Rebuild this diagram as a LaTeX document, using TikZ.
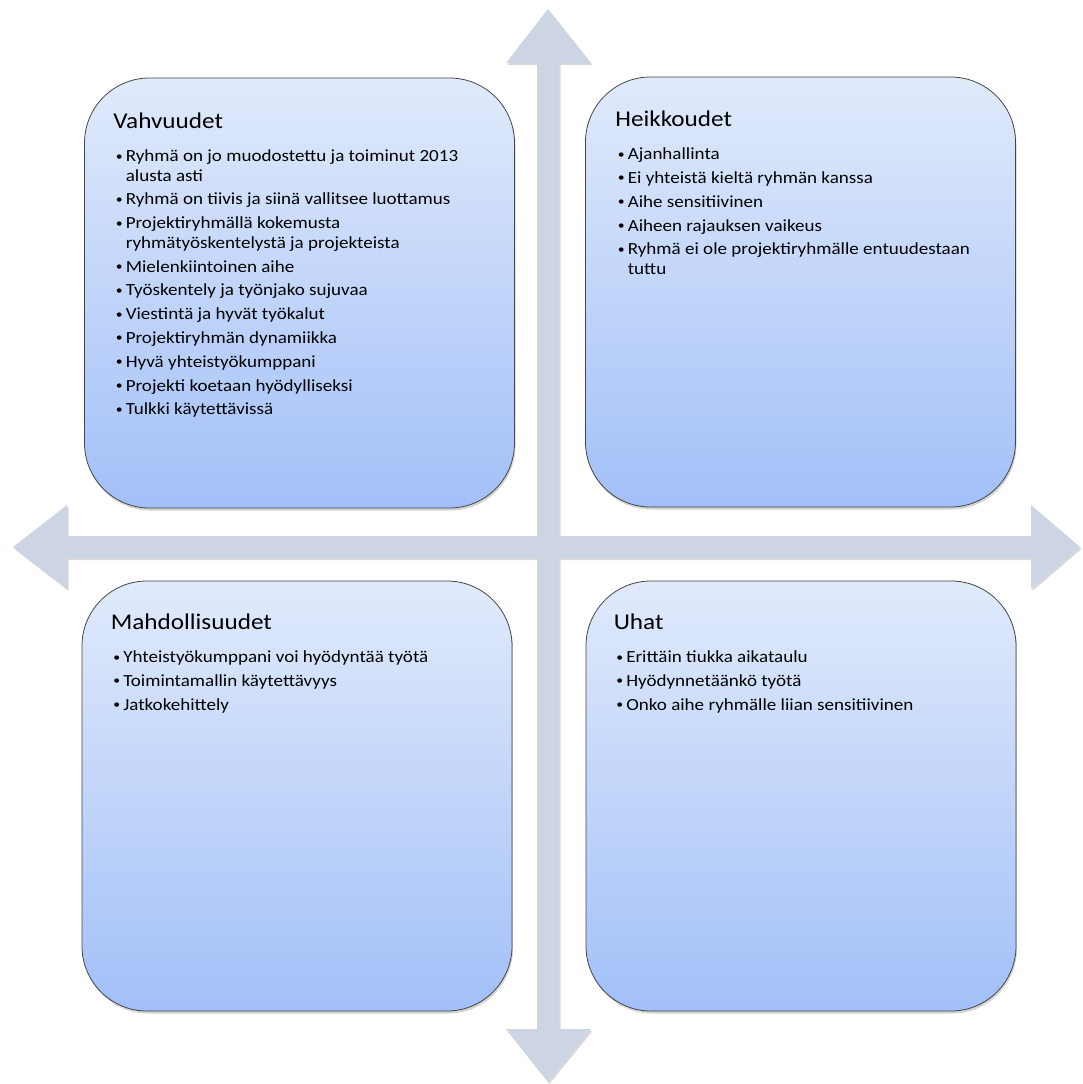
\documentclass[tikz,border=0pt]{standalone}
\usepackage{fontspec}
\setmainfont{Carlito}[FakeStretch=1.12]
\usepackage{tikz}
\usetikzlibrary{positioning,shadows}

\definecolor{axisgray}{HTML}{CDD5E4}
\definecolor{boxtop}{HTML}{E0EAFB}
\definecolor{boxbottom}{HTML}{A2C0F8}
\definecolor{boxline}{HTML}{454545}

\newcommand{\swotitem}[1]{\hangindent=12.5pt\hangafter=1\noindent\makebox[12.5pt][l]{\kern2.5pt\raisebox{1.5pt}{\scalebox{0.72}{\textbullet}}}#1\par}

\tikzset{
	swotbox/.style={draw=boxline,line width=0.8pt,rounded corners=65pt,minimum width=430pt,minimum height=430pt,top color=boxtop,bottom color=boxbottom,drop shadow={shadow xshift=1pt,shadow yshift=-2.5pt,opacity=0.35}},
	swottitle/.style={anchor=base west,inner sep=0pt,font=\fontsize{22.5}{26}\selectfont},
	swotlist/.style={inner sep=0pt,text width=390pt,align=flush left,font=\fontsize{17}{19.5}\selectfont,execute at begin node={\raggedright\setlength{\parskip}{4.3pt}}},
}

\begin{document}
\begin{tikzpicture}[x=1pt,y=-1pt]
		\useasboundingbox (0,0) rectangle (1082,1084);
		
		% axis cross
		\fill[axisgray,drop shadow={shadow xshift=1.5pt,shadow yshift=-2pt,opacity=0.3}] (548,9) -- (591,63) -- (559,63) -- (559,536) -- (1031,536) -- (1031,505) -- (1080,547) -- (1031,589) -- (1031,558) -- (559,558) -- (559,1029) -- (591,1029) -- (548,1082) -- (506,1029) -- (537,1029) -- (537,558) -- (67,558) -- (67,589) -- (13,547) -- (67,505) -- (67,536) -- (537,536) -- (537,63) -- (506,63) -- cycle;
		
		\node[swotbox] (vahv) at (299.5,293) {};
		\node[swotbox] (heik) at (800.5,292) {};
		\node[swotbox] (mahd) at (297,796) {};
		\node[swotbox] (uhat) at (801,796) {};
		
		\node[swottitle,shift={(29,51)}] (vahvT) at (vahv.north west) {Vahvuudet};
		\node[swotlist,below=33pt of vahvT.base west,anchor=base west] (vahvL) {%
			\swotitem{Ryhmä on jo muodostettu ja toiminut 2013\newline alusta asti}
			\swotitem{Ryhmä on tiivis ja siinä vallitsee luottamus}
			\swotitem{Projektiryhmällä kokemusta\newline ryhmätyöskentelystä ja projekteista}
			\swotitem{Mielenkiintoinen aihe}
			\swotitem{Työskentely ja työnjako sujuvaa}
			\swotitem{Viestintä ja hyvät työkalut}
			\swotitem{Projektiryhmän dynamiikka}
			\swotitem{Hyvä yhteistyökumppani}
			\swotitem{Projekti koetaan hyödylliseksi}
			\swotitem{Tulkki käytettävissä}};
		
		\node[swottitle,shift={(30,50)}] (heikT) at (heik.north west) {Heikkoudet};
		\node[swotlist,below=33pt of heikT.base west,anchor=base west] (heikL) {%
			\swotitem{Ajanhallinta}
			\swotitem{Ei yhteistä kieltä ryhmän kanssa}
			\swotitem{Aihe sensitiivinen}
			\swotitem{Aiheen rajauksen vaikeus}
			\swotitem{Ryhmä ei ole projektiryhmälle entuudestaan\newline tuttu}};
		
		\node[swottitle,shift={(29,49)}] (mahdT) at (mahd.north west) {Mahdollisuudet};
		\node[swotlist,below=33pt of mahdT.base west,anchor=base west] (mahdL) {%
			\swotitem{Yhteistyökumppani voi hyödyntää työtä}
			\swotitem{Toimintamallin käytettävyys}
			\swotitem{Jatkokehittely}};
		
		\node[swottitle,shift={(28,49)}] (uhatT) at (uhat.north west) {Uhat};
		\node[swotlist,below=33pt of uhatT.base west,anchor=base west] (uhatL) {%
			\swotitem{Erittäin tiukka aikataulu}
			\swotitem{Hyödynnetäänkö työtä}
			\swotitem{Onko aihe ryhmälle liian sensitiivinen}};
	\end{tikzpicture}
\end{document}
